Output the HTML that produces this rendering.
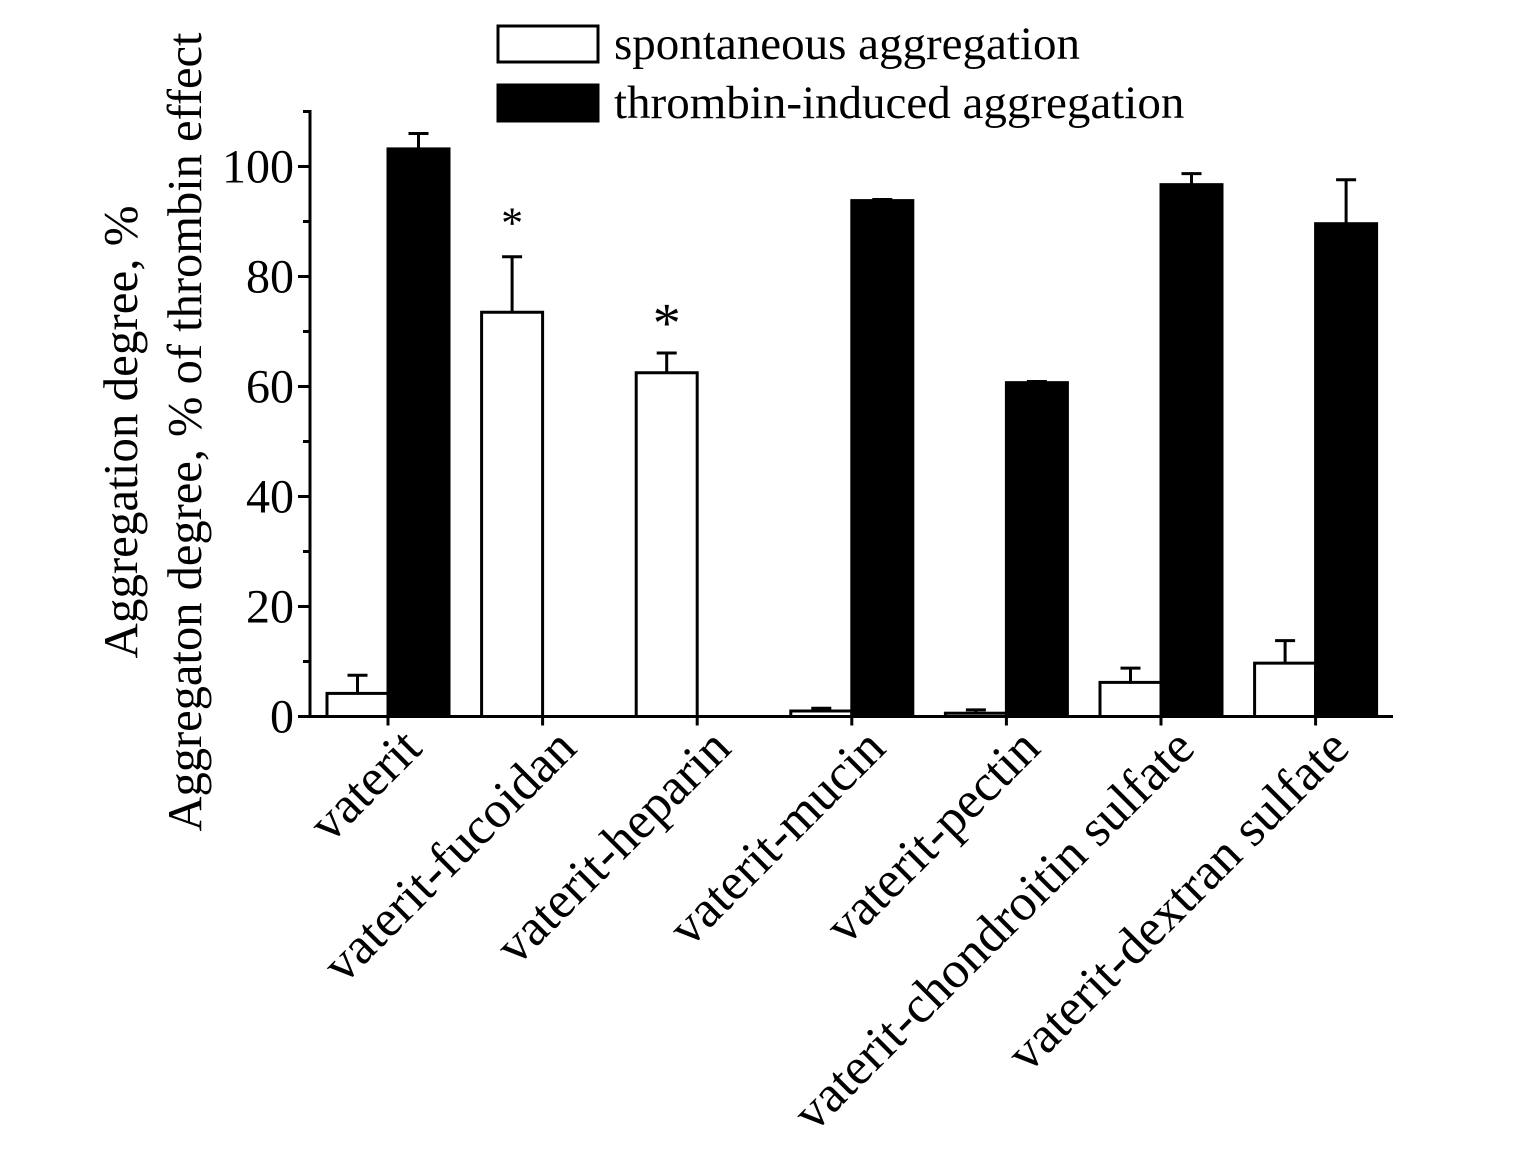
<!DOCTYPE html>
<html><head><meta charset="utf-8"><style>
body{margin:0;background:#fff}
svg{display:block;font-family:"Liberation Serif",serif}
</style></head><body>
<svg id="chart" width="1535" height="1152" viewBox="0 0 1535 1152"></svg>
<script>
const categories=["vaterit","vaterit-fucoidan","vaterit-heparin","vaterit-mucin","vaterit-pectin","vaterit-chondroitin sulfate","vaterit-dextran sulfate"];
const spontValues=[4.2,73.5,62.5,1.0,0.6,6.2,9.7];
const spontErrors=[3.3,10.1,3.6,0.5,0.6,2.6,4.1];
const thrombinValues=[103.2,0,0,93.8,60.7,96.7,89.6];
const thrombinErrors=[2.8,0,0,0.2,0.2,2.0,8.0];
const yTicks=[0,20,40,60,80,100];
const NS="http://www.w3.org/2000/svg";
const svg=document.getElementById('chart');
function mk(t,a,p){const e=document.createElementNS(NS,t);for(const k in a)e.setAttribute(k,a[k]);(p||svg).appendChild(e);return e;}
const y0=716.5,pxPer=5.5,x0=310,xEnd=1393;
const yS=v=>y0-v*pxPer;
const gc=i=>388+i*154.6;
const bw=61;
categories.forEach((c,i)=>{
  const cx=gc(i);
  let r=mk('rect',{x:cx-bw,y:yS(spontValues[i]),width:bw,height:spontValues[i]*pxPer,fill:'#fff',stroke:'#000','stroke-width':3});
  
  
  let e=mk('path',{d:`M${cx-bw/2},${yS(spontValues[i])}V${yS(spontValues[i]+spontErrors[i])}M${cx-bw/2-10},${yS(spontValues[i]+spontErrors[i])}h20`,stroke:'#000','stroke-width':3,fill:'none'});
  
  
  if(thrombinValues[i]>0){
    let b=mk('rect',{x:cx,y:yS(thrombinValues[i]),width:bw,height:thrombinValues[i]*pxPer,fill:'#000',stroke:'#000','stroke-width':3});
    
    
    let e2=mk('path',{d:`M${cx+bw/2},${yS(thrombinValues[i])}V${yS(thrombinValues[i]+thrombinErrors[i])}M${cx+bw/2-10},${yS(thrombinValues[i]+thrombinErrors[i])}h20`,stroke:'#000','stroke-width':3,fill:'none'});
    
    
  }
  let t=mk('path',{d:`M${cx},${y0}v9`,stroke:'#000','stroke-width':3});
  
  
  let l=mk('text',{x:0,y:0,'font-size':52,'text-anchor':'end',transform:`translate(${cx+36},${y0+34}) rotate(-45)`});
  l.textContent=c;
  
  
});
let ax=mk('path',{d:`M${x0},110V${y0}H${xEnd}`,stroke:'#000','stroke-width':3,fill:'none'});


yTicks.forEach(v=>{
  let t=mk('path',{d:`M${x0-12},${yS(v)}H${x0}M${x0-7},${yS(v+10)}H${x0}`,stroke:'#000','stroke-width':3});
  
  
  let l=mk('text',{x:x0-16,y:yS(v)+16,'font-size':48,'text-anchor':'end'});
  l.textContent=v;
  
  
});
[[1,'*',44,222],[2,'*',56,322]].forEach(([i,s,fs,yy])=>{
  let a=mk('text',{x:gc(i)-bw/2,y:yy+fs*0.35,'font-size':fs,'text-anchor':'middle'});
  a.textContent=s;
  
  
});
let t1=mk('text',{x:0,y:0,'font-size':49,'text-anchor':'middle',transform:'translate(137,432) rotate(-90)'});
t1.textContent='Aggregation degree, %';


let t2=mk('text',{x:0,y:0,'font-size':48.5,'text-anchor':'middle',transform:'translate(201,432) rotate(-90)'});
t2.textContent='Aggregaton degree, % of thrombin effect';


let g=mk('g',{});


let r1=mk('rect',{x:498,y:26,width:100,height:36,fill:'#fff',stroke:'#000','stroke-width':3},g);


let r2=mk('rect',{x:498,y:85,width:100,height:36,fill:'#000',stroke:'#000','stroke-width':3},g);


let l1=mk('text',{x:614,y:59,'font-size':47},g);l1.textContent='spontaneous aggregation';


let l2=mk('text',{x:614,y:118,'font-size':47},g);l2.textContent='thrombin-induced aggregation';


</script>
</body></html>
